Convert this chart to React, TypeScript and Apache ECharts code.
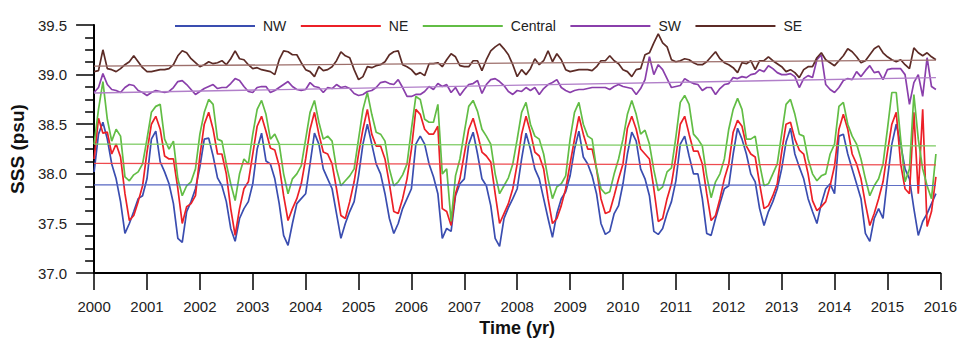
import React, { useEffect, useRef } from "react";
import * as echarts from "echarts";

// ---- data (monthly SSS, Jan 2000 – Dec 2015), one row per year ----
const seriesNames = ["NW", "NE", "Central", "SW", "SE"];
const startYear = 2000;
const endYear = 2016;

const nw = [
  38.02, 38.40, 38.52, 38.35, 38.10, 37.95, 37.72, 37.40, 37.50, 37.62, 37.75, 37.78,
  37.95, 38.35, 38.43, 38.12, 38.02, 37.90, 37.70, 37.35, 37.31, 37.62, 37.72, 37.85,
  38.07, 38.35, 38.36, 38.18, 37.96, 37.88, 37.72, 37.45, 37.32, 37.55, 37.65, 37.72,
  37.90, 38.25, 38.41, 38.13, 38.10, 37.95, 37.70, 37.38, 37.28, 37.50, 37.70, 37.75,
  37.80, 38.10, 38.41, 38.30, 38.05, 37.95, 37.85, 37.60, 37.35, 37.50, 37.62, 37.72,
  37.98, 38.30, 38.50, 38.30, 38.10, 38.00, 37.80, 37.55, 37.40, 37.50, 37.65, 37.75,
  37.85, 38.30, 38.38, 38.30, 38.10, 37.97, 37.80, 37.35, 37.45, 37.42, 37.78, 37.90,
  37.95, 38.30, 38.42, 38.20, 37.95, 37.88, 37.68, 37.35, 37.27, 37.55, 37.66, 37.75,
  37.85, 38.15, 38.41, 38.25, 38.05, 37.95, 37.75, 37.55, 37.36, 37.60, 37.75, 37.82,
  37.98, 38.25, 38.43, 38.17, 38.10, 37.98, 37.80, 37.50, 37.39, 37.42, 37.60, 37.68,
  37.90, 38.20, 38.42, 38.33, 38.05, 37.95, 37.78, 37.42, 37.39, 37.45, 37.60, 37.72,
  37.93, 38.30, 38.38, 38.18, 38.00, 38.00, 37.75, 37.40, 37.38, 37.55, 37.70, 37.85,
  37.88, 38.20, 38.46, 38.35, 38.20, 38.00, 37.92, 37.65, 37.48, 37.62, 37.72, 37.85,
  38.05, 38.32, 38.46, 38.20, 38.07, 37.95, 37.75, 37.62, 37.50, 37.70, 37.85, 37.90,
  37.80, 38.38, 38.40, 38.20, 38.05, 37.90, 37.75, 37.40, 37.32, 37.55, 37.65, 37.55,
  37.95, 38.30, 38.50, 38.30, 38.05, 37.95, 37.65, 37.38, 37.52, 37.60, 37.70, 37.80,
];

const ne = [
  38.15, 38.56, 38.41, 38.42, 38.20, 38.30, 38.17, 37.80, 37.53, 37.58, 37.72, 37.88,
  38.22, 38.50, 38.58, 38.45, 38.18, 38.15, 38.15, 37.85, 37.50, 37.67, 37.70, 37.78,
  38.18, 38.50, 38.62, 38.45, 38.20, 38.20, 38.00, 37.65, 37.38, 37.65, 37.85, 37.92,
  38.20, 38.48, 38.58, 38.43, 38.26, 38.24, 38.08, 37.78, 37.53, 37.65, 37.75, 37.90,
  38.15, 38.45, 38.62, 38.40, 38.22, 38.20, 38.10, 37.85, 37.58, 37.55, 37.72, 37.92,
  38.20, 38.45, 38.65, 38.40, 38.28, 38.28, 38.15, 37.90, 37.62, 37.60, 37.75, 37.95,
  38.25, 38.65, 38.60, 38.45, 38.40, 38.40, 38.48, 37.65, 37.62, 37.48, 37.80, 37.95,
  38.20, 38.45, 38.56, 38.40, 38.22, 38.18, 38.12, 37.80, 37.50, 37.60, 37.70, 37.85,
  38.10, 38.40, 38.58, 38.42, 38.22, 38.18, 38.05, 37.75, 37.50, 37.55, 37.68, 37.85,
  38.10, 38.35, 38.58, 38.40, 38.25, 38.25, 38.05, 37.75, 37.60, 37.62, 37.78, 37.95,
  38.10, 38.46, 38.58, 38.45, 38.25, 38.20, 38.15, 37.85, 37.52, 37.55, 37.75, 37.90,
  38.17, 38.50, 38.58, 38.40, 38.23, 38.23, 38.10, 37.80, 37.53, 37.58, 37.75, 37.95,
  38.10, 38.42, 38.54, 38.48, 38.28, 38.20, 38.17, 37.90, 37.65, 37.68, 37.78, 37.90,
  38.22, 38.50, 38.52, 38.35, 38.24, 38.20, 38.00, 37.73, 37.63, 37.67, 37.72, 37.88,
  38.08, 38.45, 38.60, 38.45, 38.20, 38.10, 37.95, 37.70, 37.48, 37.60, 37.75, 37.92,
  38.22, 38.50, 38.62, 38.10, 37.85, 37.80, 38.62, 37.80, 38.65, 37.47, 37.62, 37.97,
];

const central = [
  38.30, 38.65, 38.93, 38.55, 38.33, 38.45, 38.38, 37.97, 37.93, 37.99, 38.02, 38.10,
  38.35, 38.62, 38.68, 38.70, 38.35, 38.25, 38.33, 37.95, 37.78, 37.88, 37.92, 38.05,
  38.40, 38.62, 38.75, 38.70, 38.35, 38.33, 38.10, 37.90, 37.73, 38.00, 38.15, 38.10,
  38.40, 38.65, 38.74, 38.60, 38.35, 38.40, 38.30, 38.00, 37.80, 37.95, 38.00, 38.08,
  38.35, 38.62, 38.74, 38.52, 38.35, 38.38, 38.33, 38.05, 37.88, 37.93, 37.98, 38.05,
  38.35, 38.65, 38.82, 38.60, 38.42, 38.40, 38.33, 38.05, 37.88, 37.92, 37.99, 38.10,
  38.45, 38.78, 38.75, 38.55, 38.52, 38.52, 38.70, 38.00, 38.05, 37.52, 37.98, 38.15,
  38.42, 38.68, 38.74, 38.63, 38.45, 38.38, 38.30, 38.00, 37.80, 37.88, 37.96, 38.10,
  38.35, 38.62, 38.72, 38.50, 38.38, 38.35, 38.20, 37.95, 37.75, 37.87, 37.90, 37.98,
  38.35, 38.62, 38.72, 38.50, 38.38, 38.35, 38.05, 37.85, 37.80, 37.82, 38.00, 38.15,
  38.35, 38.60, 38.74, 38.60, 38.40, 38.44, 38.30, 38.04, 37.83, 37.87, 38.02, 38.06,
  38.37, 38.72, 38.79, 38.70, 38.40, 38.35, 38.28, 37.98, 37.76, 37.92, 38.00, 38.15,
  38.45, 38.65, 38.76, 38.65, 38.35, 38.35, 38.38, 38.10, 37.88, 37.90, 38.00, 38.10,
  38.40, 38.70, 38.75, 38.60, 38.40, 38.38, 38.15, 38.00, 37.93, 37.98, 38.00, 38.20,
  38.30, 38.68, 38.72, 38.50, 38.38, 38.30, 38.15, 37.95, 37.78, 37.88, 37.95, 38.10,
  38.45, 38.82, 38.82, 38.35, 37.92, 38.05, 38.80, 38.35, 38.05, 37.88, 37.75, 38.20,
];

const sw = [
  38.82, 38.87, 39.01, 38.90, 38.85, 38.84, 38.82, 38.87, 38.90, 38.89, 38.84, 38.82,
  38.79, 38.82, 38.84, 38.83, 38.82, 38.83, 38.87, 38.93, 38.94, 38.90, 38.85, 38.80,
  38.83, 38.86, 38.88, 38.90, 38.86, 38.87, 38.87, 38.91, 38.96, 38.94, 38.88, 38.83,
  38.82, 38.87, 38.88, 38.88, 38.82, 38.84, 38.87, 38.90, 38.93, 38.88, 38.85, 38.84,
  38.85, 38.92, 38.88, 38.87, 38.82, 38.87, 38.86, 38.90, 38.87, 38.88, 38.86, 38.81,
  38.79, 38.80, 38.83, 38.84, 38.87, 38.92, 38.93, 38.91, 38.90, 38.95, 38.87, 38.78,
  38.78, 38.80, 38.80, 38.83, 38.88, 38.85, 38.91, 38.88, 38.90, 38.82, 38.87, 38.79,
  38.85, 38.90, 38.91, 38.94, 38.81, 38.90, 38.95, 38.96, 38.93, 38.89, 38.83, 38.80,
  38.84, 38.83, 38.87, 38.84, 38.87, 38.80, 38.86, 38.90, 38.92, 38.95, 38.87, 38.84,
  38.82, 38.84, 38.85, 38.85, 38.86, 38.87, 38.87, 38.87, 38.87, 38.85, 38.88, 38.90,
  38.88, 38.87, 38.86, 38.80, 38.86, 38.95, 39.18, 39.00, 39.10, 39.05, 38.96, 38.87,
  38.88, 38.89, 38.96, 38.93, 38.91, 38.90, 38.84, 38.87, 38.87, 38.80, 38.86, 38.90,
  38.91, 38.97, 38.96, 38.98, 38.97, 39.00, 39.01, 39.05, 39.03, 39.09, 39.06, 39.02,
  39.00, 39.00, 39.01, 38.98, 38.87, 38.96, 38.99, 38.97, 39.15, 39.20, 38.90, 38.85,
  38.82, 38.87, 38.94, 38.96, 38.95, 39.03, 38.98, 39.04, 39.09, 39.02, 39.03, 38.95,
  39.05, 39.06, 39.06, 39.06, 39.00, 38.70, 38.92, 39.00, 38.78, 39.17, 38.88, 38.85,
];

const se = [
  39.03, 39.04, 39.25, 39.06, 39.05, 39.03, 39.06, 39.10, 39.13, 39.19, 39.13, 39.07,
  39.03, 39.03, 39.04, 39.05, 39.05, 39.06, 39.10, 39.19, 39.24, 39.22, 39.16, 39.12,
  39.08, 39.10, 39.13, 39.11, 39.12, 39.14, 39.10, 39.16, 39.24, 39.16, 39.15, 39.10,
  39.06, 39.07, 39.05, 39.04, 39.03, 39.00, 39.15, 39.24, 39.23, 39.20, 39.20, 39.12,
  39.05, 39.03, 38.98, 39.08, 39.04, 39.05, 39.08, 39.14, 39.23, 39.19, 39.17, 39.05,
  38.95, 38.98, 39.08, 39.07, 39.09, 39.10, 39.13, 39.20, 39.23, 39.24, 39.10, 39.08,
  39.05, 39.00, 39.02, 38.99, 39.11, 39.11, 39.12, 39.08, 39.15, 39.21, 39.18, 39.09,
  39.08, 39.08, 39.14, 39.14, 39.04, 39.15, 39.24, 39.28, 39.31, 39.26, 39.20, 39.10,
  38.98, 39.05, 39.00, 39.06, 39.16, 39.10, 39.14, 39.24, 39.13, 39.21, 39.15, 39.05,
  39.03, 39.04, 39.05, 39.05, 39.05, 39.04, 39.08, 39.14, 39.14, 39.19, 39.14, 39.11,
  39.05, 39.03, 38.98, 39.05, 39.06, 39.20, 39.22, 39.32, 39.41, 39.32, 39.28, 39.15,
  39.13, 39.14, 39.16, 39.15, 39.12, 39.10, 39.10, 39.13, 39.18, 39.23, 39.16, 39.12,
  39.10, 39.07, 39.02, 39.12, 39.11, 39.14, 39.05, 39.14, 39.14, 39.18, 39.14, 39.11,
  39.08, 39.03, 39.05, 39.02, 38.97, 39.05, 39.08, 39.08, 39.17, 39.22, 39.15, 39.12,
  39.09, 39.14, 39.19, 39.26, 39.23, 39.18, 39.12, 39.14, 39.20, 39.26, 39.29, 39.22,
  39.18, 39.15, 39.13, 39.15, 39.10, 39.06, 39.27, 39.22, 39.19, 39.22, 39.18, 39.15,
];

// linear trend lines: value at the first and at the last month
const trendStart = [37.89, 38.105, 38.3, 38.815, 39.085];
const trendEnd = [37.885, 38.09, 38.283, 38.97, 39.146];

const lineColors = ["#3a4db0", "#ec2027", "#62bd45", "#8a3fab", "#5c2b26"];
const trendColors = ["#5666c2", "#ee4a4f", "#7ccb62", "#b17fc9", "#9c6e6a"];

const fontFamily = "'Liberation Sans', Arial, Helvetica, sans-serif";

export default function App() {
  const ref = useRef<HTMLDivElement>(null);

  useEffect(() => {
    if (!ref.current) return;
    const chart = echarts.init(ref.current, null, { renderer: "svg", width: 960, height: 342 });
    const all = [nw, ne, central, sw, se];
    const toPts = (arr: number[]) => arr.map((v, i) => [startYear + i / 12, v]);
    const lastX = startYear + (nw.length - 1) / 12;

    const dataSeries = all.map((arr, k) => ({
      name: seriesNames[k],
      type: "line",
      data: toPts(arr),
      symbol: "none",
      showSymbol: false,
      lineStyle: { color: lineColors[k], width: 1.7 },
      itemStyle: { color: lineColors[k] },
      z: 2 + k,
    }));
    const trendSeries = all.map((_, k) => ({
      name: seriesNames[k] + " trend",
      type: "line",
      data: [
        [startYear, trendStart[k]],
        [lastX, trendEnd[k]],
      ],
      symbol: "none",
      silent: true,
      lineStyle: { color: trendColors[k], width: 1.3 },
      z: 10,
    }));

    chart.setOption({
      animation: false,
      backgroundColor: "#ffffff",
      textStyle: { fontFamily },
      grid: { left: 94, top: 25, width: 849, height: 256, containLabel: false },
      legend: {
        data: seriesNames,
        left: 170,
        top: 14,
        icon: "rect",
        itemWidth: 80,
        itemHeight: 2,
        itemGap: 14.5,
        textStyle: { fontSize: 14, color: "#222", fontFamily, padding: [0, 0, 0, 3] },
      },
      xAxis: {
        type: "value",
        min: startYear,
        max: endYear,
        interval: 1,
        name: "Time (yr)",
        nameLocation: "middle",
        nameGap: 44,
        nameTextStyle: { fontSize: 18, fontWeight: "bold", color: "#111", fontFamily },
        axisLine: { show: true, lineStyle: { color: "#000", width: 2 } },
        axisTick: { show: true, length: 17, lineStyle: { color: "#000", width: 1.5 } },
        axisLabel: {
          margin: 26,
          fontSize: 15,
          color: "#222",
          fontFamily,
          formatter: (v: number) => String(Math.round(v)),
        },
        splitLine: { show: false },
      },
      yAxis: {
        type: "value",
        min: 37,
        max: 39.5,
        interval: 0.5,
        name: "SSS (psu)",
        nameLocation: "middle",
        nameGap: 61,
        nameTextStyle: { fontSize: 19, fontWeight: "bold", color: "#111", fontFamily },
        axisLine: { show: true, lineStyle: { color: "#000", width: 2 } },
        axisTick: { show: true, length: 18, lineStyle: { color: "#000", width: 1.5 } },
        minorTick: { show: true, splitNumber: 4, length: 9, lineStyle: { color: "#000", width: 1.5 } },
        axisLabel: {
          margin: 27,
          fontSize: 15,
          color: "#222",
          fontFamily,
          formatter: (v: number) => v.toFixed(1),
        },
        splitLine: { show: false },
        minorSplitLine: { show: false },
      },
      series: [...dataSeries, ...trendSeries],
    });

    return () => chart.dispose();
  }, []);

  return (
    <div
      ref={ref}
      style={{ position: "fixed", left: 0, top: 0, width: 960, height: 342, background: "#fff" }}
    />
  );
}
